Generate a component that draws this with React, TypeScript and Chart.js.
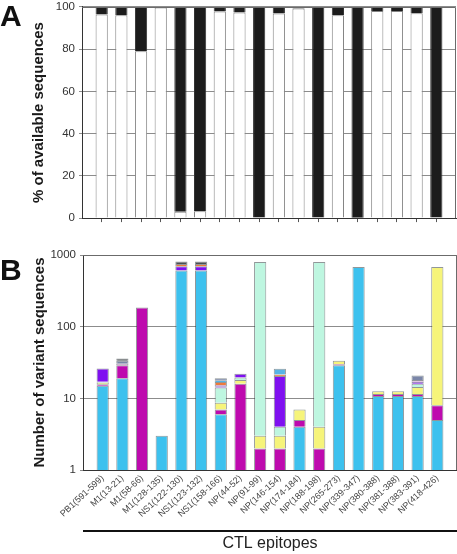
import React, { useEffect, useRef } from 'react';
import { Chart, registerables } from 'chart.js';

Chart.register(...registerables);
Chart.defaults.font.family = '"Liberation Sans", Arial, Helvetica, sans-serif';

const epitopes = [
  'PB1(591-599)', 'M1(13-21)', 'M1(58-66)', 'M1(128-135)', 'NS1(122-130)', 'NS1(123-132)',
  'NS1(158-166)', 'NP(44-52)', 'NP(91-99)', 'NP(146-154)', 'NP(174-184)', 'NP(188-198)',
  'NP(265-273)', 'NP(339-347)', 'NP(380-388)', 'NP(381-388)', 'NP(383-391)', 'NP(418-426)',
];

// Panel A: % of available sequences
const conservedPct = [96.4, 96.1, 79, 99.7, 3, 3.3, 97.8, 97.4, 0.3, 96.9, 99.2, 0.3, 96, 0.2, 98.1, 98.1, 97, 0];
const variantPct = [3.6, 3.9, 21, 0.3, 97, 96.7, 2.2, 2.6, 99.7, 3.1, 0.8, 99.7, 4, 99.8, 1.9, 1.9, 3, 100];
const pctTicks = [0, 20, 40, 60, 80, 100];

// Panel B: number of variant sequences (stacked segments, log scale)
const countTicks = [1, 10, 100, 1000];
const cyanCounts = [15, 19, null, 3, 610, 610, 6, null, null, null, 4, null, 29, 680, 10.8, 10.8, 10.8, 5];
const magentaCounts = [0.7, 10, 185, null, null, null, 1, 16, 2, 2, 1, 2, 1, null, 0.7, 0.7, 0.7, 3];
const yellowCounts = [0.8, null, null, null, null, null, 1.7, 2, 1, 1, 2, 2, 3.5, null, 1.1, 1.1, 2.9, 672];
const mintCounts = [0.5, null, null, null, null, null, 5.5, 1.5, 797, 1, null, 796, null, null, null, null, 1.6, null];
const purpleCounts = [9, null, null, null, 85, 85, 0.6, 2.5, null, 16.5, null, null, null, null, null, null, 1, null];
const lavenderCounts = [null, 1.5, null, null, null, null, 0.6, null, null, null, null, null, null, null, null, null, 1, null];
const orangeCounts = [null, null, null, null, 55, 55, 1.5, null, null, 1, null, null, null, null, null, null, null, null];
const skyCounts = [null, null, null, null, null, null, 1, null, null, 4.3, null, null, null, null, null, null, null, null];
const slateCounts = [null, 3, null, null, null, null, 1.1, null, null, null, null, null, null, null, null, null, 2.8, null];
const darkCounts = [null, 2.5, null, null, 60, 60, null, null, null, null, null, null, null, null, null, null, null, null];

const segmentSeries = [
  { name: 'cyan', data: cyanCounts, color: '#3DC1EE' },
  { name: 'magenta', data: magentaCounts, color: '#BE0AAE' },
  { name: 'yellow', data: yellowCounts, color: '#F6F47A' },
  { name: 'mint', data: mintCounts, color: '#BEF6E0' },
  { name: 'purple', data: purpleCounts, color: '#7F10F0' },
  { name: 'lavender', data: lavenderCounts, color: '#D9A0D8' },
  { name: 'orange', data: orangeCounts, color: '#EE7A3A' },
  { name: 'sky', data: skyCounts, color: '#56B4E6' },
  { name: 'slate', data: slateCounts, color: '#7A86A8' },
  { name: 'dark', data: darkCounts, color: '#4A4F52' },
];

const slotLabels = ['', ...epitopes, ''];
const padEnds = (arr: (number | null)[]) => [null, ...arr, null];
const trimEndTicks = (scale: any) => {
  scale.ticks = scale.ticks.filter((t: any) => t.value > 0 && t.value < slotLabels.length - 1);
};

const framePlugin = {
  id: 'frame',
  afterDatasetsDraw(chart: any) {
    const { ctx, chartArea: a } = chart;
    ctx.save();
    ctx.strokeStyle = '#6b6b6b';
    ctx.lineWidth = 1;
    ctx.beginPath();
    ctx.moveTo(a.left, Math.round(a.top) + 0.5);
    ctx.lineTo(Math.round(a.right) - 0.5, Math.round(a.top) + 0.5);
    ctx.lineTo(Math.round(a.right) - 0.5, a.bottom);
    ctx.stroke();
    ctx.restore();
  },
};

const underlinePlugin = {
  id: 'underline',
  afterDraw(chart: any) {
    const { ctx, chartArea: a, width, height } = chart;
    ctx.save();
    ctx.fillStyle = '#111';
    ctx.fillRect(a.left, height - 24, width - a.left, 2);
    ctx.restore();
  },
};

const W = 457;
const A_H = 233;
const B_H = 314;

export default function App() {
  const refA = useRef<HTMLCanvasElement>(null);
  const refB = useRef<HTMLCanvasElement>(null);

  useEffect(() => {
    const chartA = new Chart(refA.current!, {
      type: 'bar',
      data: {
        labels: slotLabels,
        datasets: [
          { label: 'conserved', data: padEnds(conservedPct), backgroundColor: '#ffffff', borderColor: '#858585', borderWidth: 1 },
          { label: 'variant', data: padEnds(variantPct), backgroundColor: '#1c1c1c', borderColor: '#333333', borderWidth: 1 },
        ],
      },
      options: {
        animation: false,
        responsive: false,
        maintainAspectRatio: false,
        layout: { padding: { top: 9, right: 1, left: 0, bottom: 0 } },
        plugins: { legend: { display: false }, tooltip: { enabled: false } },
        datasets: { bar: { categoryPercentage: 1, barPercentage: 0.62 } },
        scales: {
          x: {
            stacked: true,
            offset: false,
            grid: { offset: false, drawOnChartArea: false, drawTicks: true, tickLength: 4, color: '#555' },
            border: { color: '#333' },
            ticks: { display: false },
            afterBuildTicks: trimEndTicks,
            afterFit: (s: any) => { s.height = 10; },
          },
          y: {
            stacked: true,
            min: 0,
            max: 100,
            afterBuildTicks: (s: any) => { s.ticks = pctTicks.map((v) => ({ value: v })); },
            grid: { color: '#8c8c8c', tickLength: 3 },
            border: { color: '#333' },
            ticks: { font: { size: 11.5 }, color: '#333', padding: 4 },
            title: { display: true, text: '% of available sequences', font: { size: 15, weight: 'bold' }, color: '#1a1a1a', padding: { top: 30, bottom: 0 } },
            afterFit: (s: any) => { s.width = 82; },
          },
        },
      } as any,
      plugins: [framePlugin],
    });

    const chartB = new Chart(refB.current!, {
      type: 'bar',
      data: {
        labels: slotLabels,
        datasets: segmentSeries.map((s) => ({
          label: s.name,
          data: padEnds(s.data),
          backgroundColor: s.color,
          borderColor: 'rgba(55,65,70,0.55)',
          borderWidth: 1,
        })),
      },
      options: {
        animation: false,
        responsive: false,
        maintainAspectRatio: false,
        layout: { padding: { top: 15, right: 0, left: 0, bottom: 0 } },
        plugins: { legend: { display: false }, tooltip: { enabled: false } },
        datasets: { bar: { categoryPercentage: 1, barPercentage: 0.62 } },
        scales: {
          x: {
            stacked: true,
            offset: false,
            grid: { offset: false, drawOnChartArea: false, drawTicks: false },
            border: { color: '#333' },
            afterBuildTicks: trimEndTicks,
            ticks: { autoSkip: false, minRotation: 43, maxRotation: 43, padding: 3, font: { size: 9 }, color: '#444' },
            title: { display: true, text: 'CTL epitopes', font: { size: 16 }, color: '#222', padding: { top: 0, bottom: 1 } },
            afterFit: (s: any) => { s.height = 84; },
          },
          y: {
            type: 'logarithmic',
            stacked: true,
            min: 1,
            max: 1000,
            afterBuildTicks: (s: any) => { s.ticks = countTicks.map((v) => ({ value: v })); },
            grid: { color: '#8c8c8c', tickLength: 3 },
            border: { color: '#333' },
            ticks: { font: { size: 11.5 }, color: '#333', padding: 4, callback: (v: any) => String(v) },
            title: { display: true, text: 'Number of variant sequences', font: { size: 15, weight: 'bold' }, color: '#1a1a1a', padding: { top: 31, bottom: 0 } },
            afterFit: (s: any) => { s.width = 83; },
          },
        },
      } as any,
      plugins: [framePlugin, underlinePlugin],
    });

    return () => {
      chartA.destroy();
      chartB.destroy();
    };
  }, []);

  const letter: React.CSSProperties = {
    position: 'absolute',
    left: 0,
    fontFamily: '"Liberation Sans", Arial, sans-serif',
    fontWeight: 'bold',
    fontSize: 30,
    lineHeight: '30px',
    color: '#111',
  };

  return (
    <div style={{ position: 'fixed', left: 0, top: 0, width: W, height: 554, background: '#fff', overflow: 'hidden' }}>
      <canvas ref={refA} width={W} height={A_H} style={{ position: 'absolute', left: 0, top: -4, width: W, height: A_H }} />
      <canvas ref={refB} width={W} height={B_H} style={{ position: 'absolute', left: 0, top: 240, width: W, height: B_H }} />
      <div style={{ ...letter, top: 1 }}>A</div>
      <div style={{ ...letter, top: 255 }}>B</div>
    </div>
  );
}
